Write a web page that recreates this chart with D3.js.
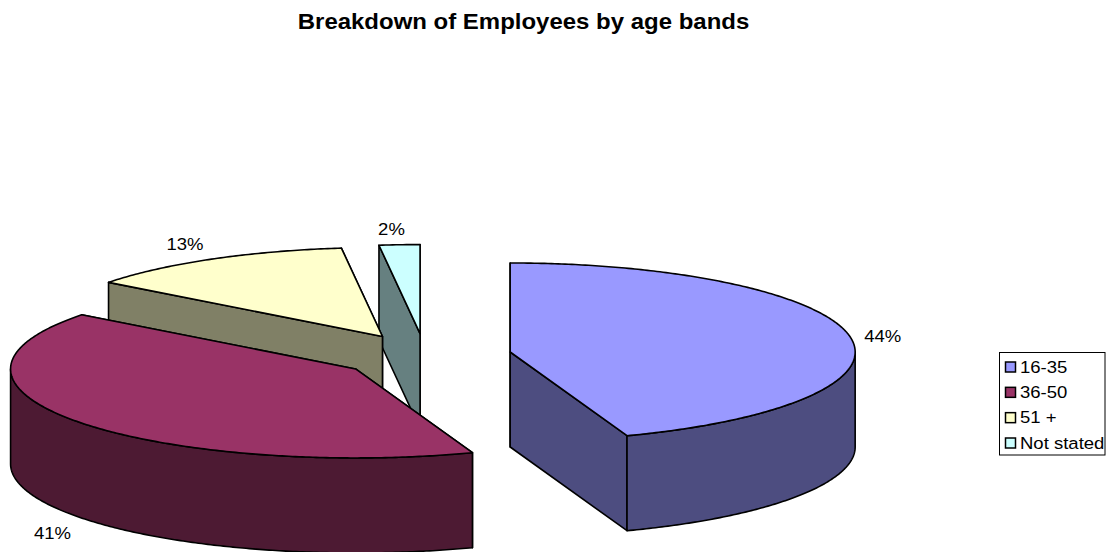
<!DOCTYPE html>
<html><head><meta charset="utf-8">
<script src="https://cdn.jsdelivr.net/npm/d3@7"></script>
<style>html,body{margin:0;padding:0;background:#fff}svg{display:block}text{font-family:"Liberation Sans",Arial,sans-serif;fill:#000}</style>
</head><body><script>
const categories = ["16-35","36-50","51 +","Not stated"];
const values = [44.5,40.9,12.7,1.9];
const percentLabels = ["44%","41%","13%","2%"];
const topColors = ["#9999FF","#993366","#FFFFCC","#CCFFFF"];
const sideColors = ["#4D4D80","#4D1A33","#808066","#668080"];

const W=1111,H=552;
const svg=d3.select("body").append("svg").attr("width",W).attr("height",H);
const CX=425.2,CY=355.8,RX=345,RY=89,DEPTH=95,EXPLODE=0.25,STRETCH=1.09;
const sx=d3.scaleLinear().domain([-1,1]).range([CX-RX,CX+RX]);
const sy=d3.scaleLinear().domain([-1,1]).range([CY+RY,CY-RY]);
const arcs=d3.pie().sort(null).value(d=>d).startAngle(0).endAngle(2*Math.PI)(values);
const line=d3.line().x(d=>d[0]).y(d=>d[1]);

function rimPts(a0,a1,c,dz){
  const n=Math.max(2,Math.ceil(Math.abs(a1-a0)/0.01));
  return d3.range(n+1).map(i=>{
    const a=a0+(a1-a0)*i/n;
    return [sx(c[0]+Math.sin(a)),sy(c[1]+Math.cos(a))+dz];
  });
}
const g=svg.append("g");
[3,2,1,0].forEach(i=>{
  const d=arcs[i], m=(d.startAngle+d.endAngle)/2;
  const c=[EXPLODE*Math.sin(m),EXPLODE*Math.cos(m)];
  const apex=[sx(c[0]),sy(c[1])];
  const draw=(pts,fill)=>g.append("path").attr("d",line(pts)+"Z").attr("fill",fill)
    .attr("stroke","#000").attr("stroke-width",1.6).attr("stroke-linejoin","round");
  // radial cut walls, farther edge first
  [d.startAngle,d.endAngle].sort((a,b)=>Math.cos(b)-Math.cos(a)).forEach(a=>{
    const r=[sx(c[0]+Math.sin(a)),sy(c[1]+Math.cos(a))];
    draw([apex,r,[r[0],r[1]+DEPTH],[apex[0],apex[1]+DEPTH]],sideColors[i]);
  });
  // front outer wall
  const a0=Math.max(d.startAngle,Math.PI/2), a1=Math.min(d.endAngle,3*Math.PI/2);
  if(a1>a0){
    draw(rimPts(a0,a1,c,0).concat(rimPts(a1,a0,c,DEPTH)),sideColors[i]);
  }
  // top face
  draw([apex].concat(rimPts(d.startAngle,d.endAngle,c,0)),topColors[i]);
});

// text is slightly stretched horizontally in the reference
function putText(parent,x,y,str,size,anchor,bold,baseline){
  const t=parent.append("text").attr("transform",`translate(${x},${y}) scale(${STRETCH},1)`)
    .attr("text-anchor",anchor).attr("font-size",size).text(str);
  if(bold) t.attr("font-weight","bold");
  if(baseline) t.attr("dominant-baseline",baseline);
  return t;
}
const labelPos=[[882.7,336],[52.5,533],[185,244],[391.5,229]];
percentLabels.forEach((s,i)=>putText(svg,labelPos[i][0],labelPos[i][1],s,17,"middle",false,"central"));

putText(svg,523.5,29,"Breakdown of Employees by age bands",22,"middle",true);

const legend=svg.append("g");
legend.append("rect").attr("x",999.5).attr("y",352.5).attr("width",105.5).attr("height",102.5)
  .attr("fill","#fff").attr("stroke","#000").attr("stroke-width",1);
const ly=d3.scalePoint().domain(categories).range([367,443]);
categories.forEach((c,i)=>{
  legend.append("rect").attr("x",1005.5).attr("y",ly(c)-5).attr("width",10).attr("height",10)
    .attr("fill",topColors[i]).attr("stroke","#000").attr("stroke-width",1.5);
  putText(legend,1020,ly(c),c,17,"start",false,"central");
});
</script></body></html>
